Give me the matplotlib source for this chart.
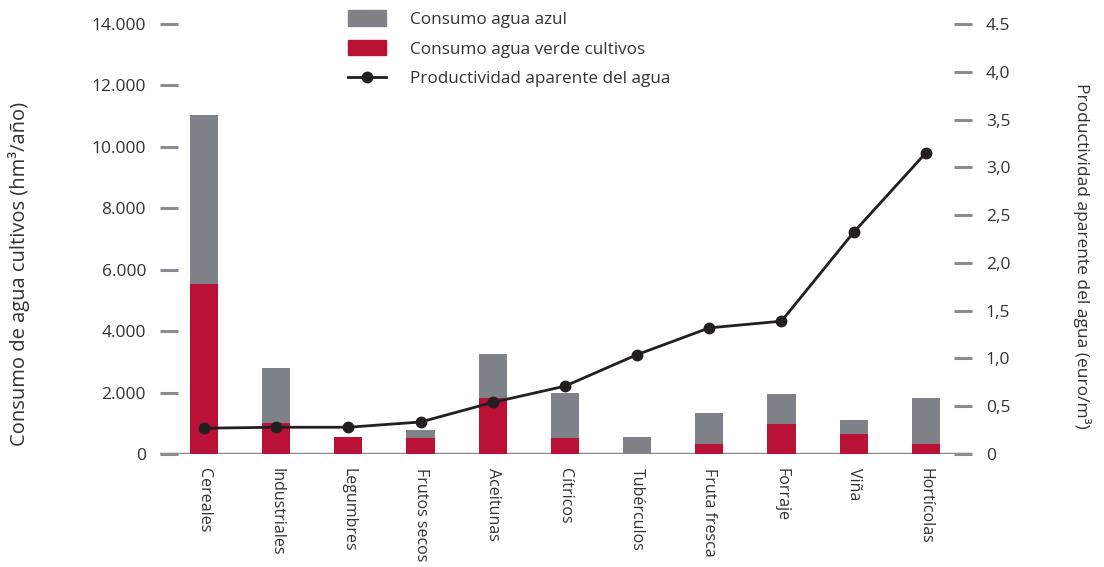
import matplotlib
matplotlib.use("Agg")
import matplotlib.pyplot as plt
from matplotlib.lines import Line2D
from matplotlib.patches import Patch

plt.rcParams['font.family'] = ['Open Sans', 'DejaVu Sans']

categories = ["Cereales", "Industriales", "Legumbres", "Frutos secos", "Aceitunas",
              "Cítricos", "Tubérculos", "Fruta fresca", "Forraje", "Viña", "Hortícolas"]
verde = [5550, 1000, 550, 520, 1820, 530, 0, 330, 980, 650, 330]
azul = [5500, 1800, 0, 260, 1430, 1470, 550, 1005, 970, 460, 1490]
productividad = [0.27, 0.28, 0.28, 0.335, 0.54, 0.71, 1.04, 1.32, 1.39, 2.32, 3.15]

left_ticks = [0, 2000, 4000, 6000, 8000, 10000, 12000, 14000]
left_labels = ["0", "2.000", "4.000", "6.000", "8.000", "10.000", "12.000", "14.000"]
right_ticks = [0, 0.5, 1.0, 1.5, 2.0, 2.5, 3.0, 3.5, 4.0, 4.5]
right_labels = ["0", "0,5", "1,0", "1,5", "2,0", "2,5", "3,0", "3,5", "4,0", "4.5"]

GRAY = "#808289"
RED = "#BA1136"
LINE = "#231F20"
TEXT = "#333333"
TICK = "#8a8c91"

fig = plt.figure(figsize=(11.04, 5.67), dpi=100)
ax = fig.add_axes([160/1104, 1-454/567, (972-160)/1104, (454-24)/567])
x = list(range(len(categories)))
w = 0.39
ax.bar(x, verde, width=w, color=RED, zorder=3)
ax.bar(x, azul, width=w, bottom=verde, color=GRAY, zorder=3)
ax.axhline(0, color=TICK, lw=2.5, zorder=2)
ax.set_xlim(-0.61, 10.64)
ax.set_ylim(0, 14000)
ax.set_yticks(left_ticks)
ax.set_yticklabels(left_labels)
ax.set_xticks(x)
ax.set_xticklabels(categories, rotation=-90, va="top", ha="center")
ax.tick_params(axis="x", length=0, pad=10, labelsize=11.5, labelcolor=TEXT)
ax.tick_params(axis="y", direction="in", length=13, width=2.2, color=TICK,
               pad=10, labelsize=12.5, labelcolor=TEXT)
for s in ax.spines.values():
    s.set_visible(False)
ax.set_ylabel("Consumo de agua cultivos (hm³/año)", fontsize=14.5, color=TEXT, labelpad=44)
ax.yaxis.label.set_y(0.419)

ax2 = ax.twinx()
ax2.plot(x, productividad, color=LINE, lw=2, marker="o", markersize=7.5, zorder=5)
ax2.set_ylim(0, 4.5)
ax2.set_yticks(right_ticks)
ax2.set_yticklabels(right_labels)
ax2.tick_params(axis="y", direction="in", length=13, width=2.2, color=TICK,
                pad=10, labelsize=12.5, labelcolor=TEXT)
for s in ax2.spines.values():
    s.set_visible(False)
ax2.set_ylabel("Productividad aparente del agua (euro/m³)", fontsize=12.5, color=TEXT,
               rotation=-90, va="bottom", labelpad=45)
ax2.yaxis.label.set_y(0.46)

handles = [Patch(color=GRAY), Patch(color=RED),
           Line2D([0], [0], color=LINE, lw=2, marker="o", markersize=7.5)]
labels = ["Consumo agua azul", "Consumo agua verde cultivos", "Productividad aparente del agua"]
fig.legend(handles, labels, loc="upper left", bbox_to_anchor=(333/1104, 1+5/567),
           frameon=False, fontsize=12.3, handlelength=2.2, handleheight=1.0,
           handletextpad=1.4, labelspacing=0.72, labelcolor=TEXT)

fig.savefig("out.png", dpi=100)
